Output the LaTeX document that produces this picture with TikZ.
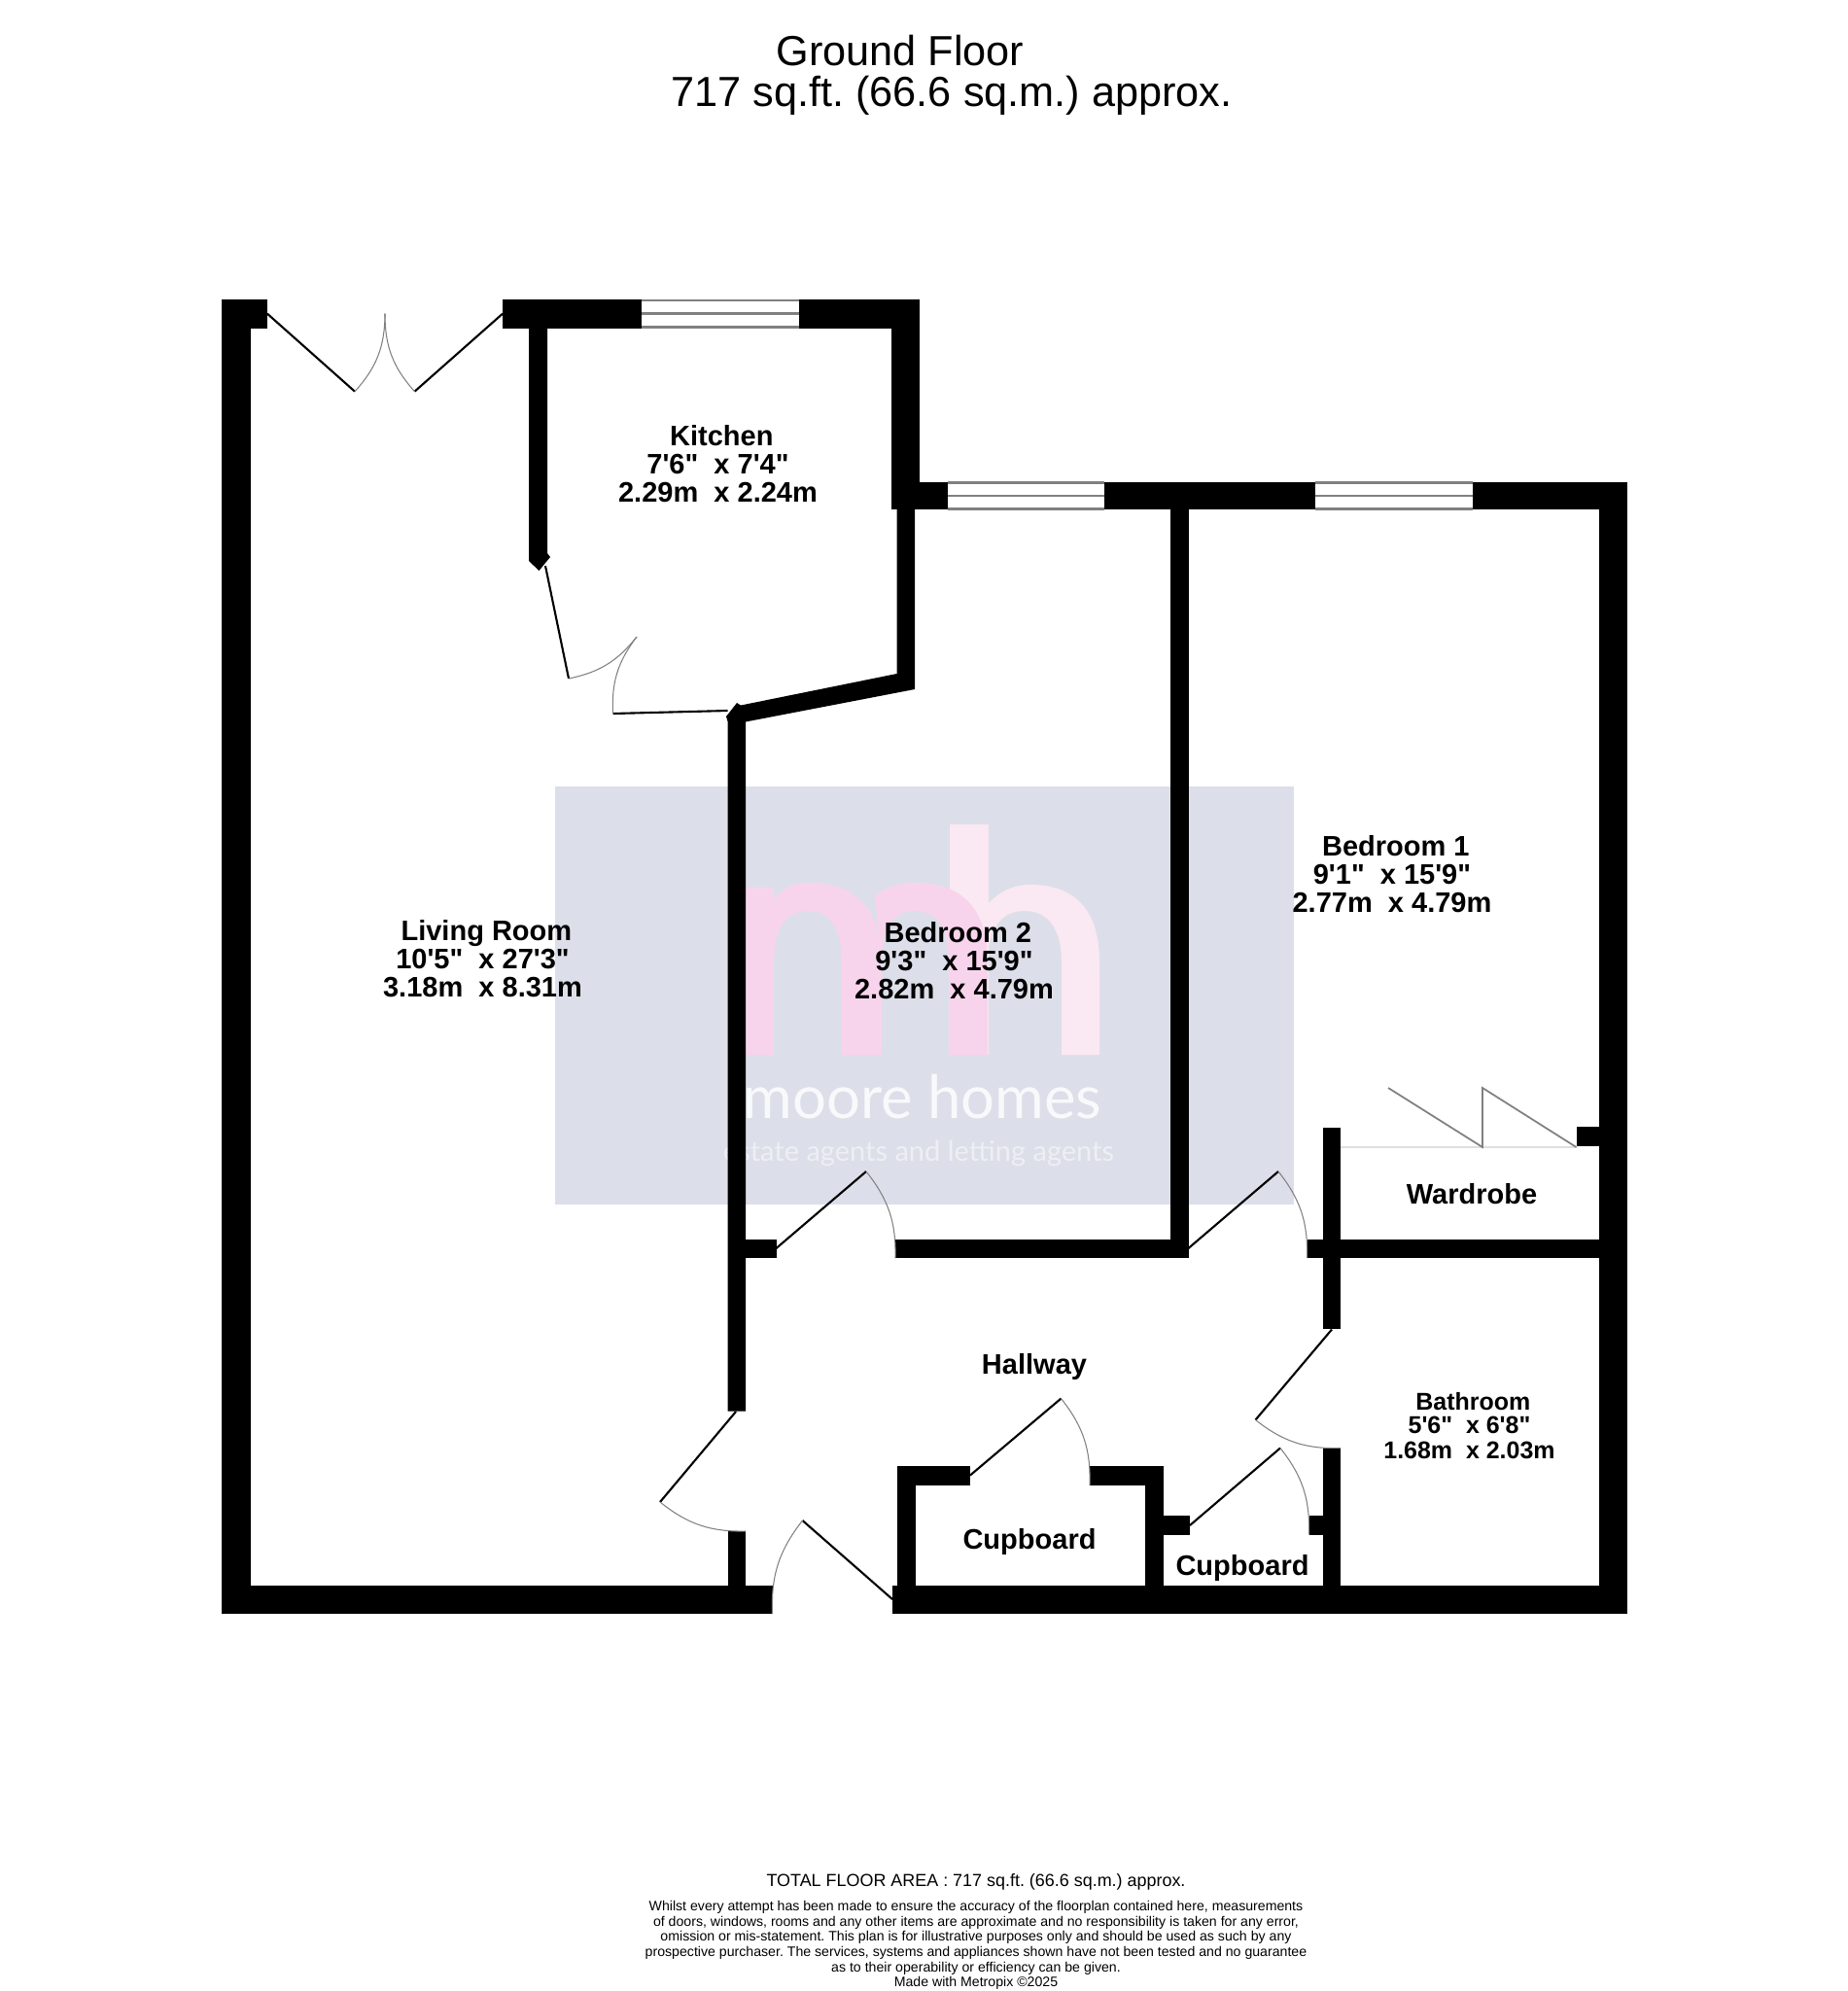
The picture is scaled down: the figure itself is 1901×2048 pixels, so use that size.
\documentclass[tikz,border=0pt]{standalone}
\usepackage{fontspec}
\newfontfamily\planfont{Liberation Sans}
\newfontfamily\markfont{Lato}
\newcommand{\roomfont}{\planfont\bfseries\fontsize{8.25}{8.3}\selectfont}
\newcommand{\smallroomfont}{\planfont\bfseries\fontsize{7.1}{7.4}\selectfont}
\definecolor{markbg}{HTML}{DCDFE9}
\definecolor{markm}{HTML}{F8D4EC}
\definecolor{markh}{HTML}{FAE8F2}
\frenchspacing
\tikzset{
    wall/.style={fill=black},
    leaf/.style={draw=black, line width=0.6pt},
    swing/.style={draw=gray, line width=0.3pt},
    glass/.style={draw=gray, line width=0.7pt},
    fold/.style={draw=gray, line width=0.5pt},
    room/.style={font=\roomfont, align=center, inner sep=0pt},
    smallroom/.style={font=\smallroomfont, align=center, inner sep=0pt}
}

\begin{document}
\begin{tikzpicture}[x=0.01cm, y=-0.01cm]
    \useasboundingbox (0,0) rectangle (1901,2048);

    % watermark
    \fill[markbg] (571,809) rectangle (1331,1239);
    \fill[markh] (977,848) rectangle (1016.5,1085);
    \fill[markh] (1131,1085) -- (1131,990) .. controls (1131,935) and (1105,910) .. (1060,910)
        .. controls (1045,910) and (1030,915) .. (1016,930) -- (1016,990)
        .. controls (1016,955) and (1030,937) .. (1054,937)
        .. controls (1078,937) and (1092,955) .. (1092,990) -- (1092,1085) -- cycle;
    \fill[markm] (755,1085) rectangle (796,913);
    \fill[markm] (907,1085) -- (907,990) .. controls (907,935) and (880,908) .. (831,908)
        .. controls (815,908) and (804,915) .. (796,925) -- (796,990)
        .. controls (796,955) and (808,937) .. (831,937)
        .. controls (854,937) and (866,955) .. (866,990) -- (866,1085) -- cycle;
    \fill[markm] (1016,1085) -- (1016,990) .. controls (1016,935) and (990,908) .. (941,908)
        .. controls (925,908) and (912,912) .. (900,922) -- (907,990)
        .. controls (907,955) and (918,937) .. (941,937)
        .. controls (964,937) and (976,955) .. (976,990) -- (976,1085) -- cycle;
    \node (mark_name) [font=\markfont\fontsize{17.5}{18}\selectfont, text=white!80!markbg, inner sep=0pt] at (949,1128) {moore homes};
    \node (mark_line) [font=\markfont\fontsize{8.25}{9}\selectfont, text=white!50!markbg, inner sep=0pt] at (945,1186) {estate agents and letting agents};

    % outer walls
    \fill[wall] (228,308) rectangle (258,1660);
    \fill[wall] (228,308) rectangle (275,337.5);
    \fill[wall] (517,308) rectangle (660,337.5);
    \fill[wall] (821.5,308) rectangle (946,337.5);
    \fill[wall] (917,308) rectangle (946,524);
    \fill[wall] (917,496) rectangle (975,524);
    \fill[wall] (1136,496) rectangle (1353,524);
    \fill[wall] (1515,496) rectangle (1674,524);
    \fill[wall] (1645,496) rectangle (1674,1660);
    \fill[wall] (228,1630.5) rectangle (794.5,1660);
    \fill[wall] (918,1630.5) rectangle (1674,1660);

    % kitchen walls
    \fill[wall] (544,337) -- (563,337) -- (563,569) -- (566,573) -- (554.5,587) -- (544,577) -- cycle;
    \fill[wall] (922.5,524) -- (941,524) -- (941,709) -- (767,742.5) -- (767,1451.5) -- (748.5,1451.5)
        -- (748.5,742) -- (747,737) -- (758,723) -- (762,725.5) -- (922.5,693) -- cycle;

    % inner walls
    \fill[wall] (1204,496) rectangle (1222.5,1294);
    \fill[wall] (921,1274.5) rectangle (1222.5,1294);
    \fill[wall] (748.5,1274.5) rectangle (798.5,1294);
    \fill[wall] (1344.5,1274.5) rectangle (1645,1294);
    \fill[wall] (1360.5,1159.5) rectangle (1379,1367);
    \fill[wall] (1621.5,1159) rectangle (1645,1179);
    \fill[wall] (1360.5,1489.5) rectangle (1379,1640);
    \fill[wall] (748.5,1575) rectangle (767,1640);

    % cupboards
    \fill[wall] (922.5,1508) rectangle (941.5,1640);
    \fill[wall] (922.5,1508) rectangle (998,1527.5);
    \fill[wall] (1121,1508) rectangle (1196.5,1527.5);
    \fill[wall] (1177.5,1508) rectangle (1196.5,1640);
    \fill[wall] (1196.5,1559) rectangle (1224,1578.5);
    \fill[wall] (1346.5,1559) rectangle (1360.5,1578.5);

    % windows
    \draw[glass] (660,309) -- (821.5,309);
    \draw[glass] (660,322.7) -- (821.5,322.7);
    \draw[glass] (660,336.5) -- (821.5,336.5);
    \draw[glass] (975,496.5) -- (1136,496.5);
    \draw[glass] (975,510) -- (1136,510);
    \draw[glass] (975,523.5) -- (1136,523.5);
    \draw[glass] (1353,496.5) -- (1515,496.5);
    \draw[glass] (1353,510) -- (1515,510);
    \draw[glass] (1353,523.5) -- (1515,523.5);

    % french doors
    \coordinate (french_l) at (275,322.7);
    \coordinate (french_r) at (517,322.7);
    \coordinate (french_top) at (396,322.7);
    \draw[leaf] (french_l) -- (365,402.7);
    \draw[leaf] (french_r) -- (426.5,402.7);
    \draw[swing] (365,402.7) to[bend right=21] (french_top);
    \draw[swing] (426.5,402.7) to[bend left=21] (french_top);

    % kitchen doors
    \draw[leaf] (561,582) -- (585,698);
    \draw[swing] (585,698) to[bend right=20] (655,655);
    \draw[leaf] (748.5,731) -- (630.5,734);
    \draw[swing] (630.5,734) to[bend left=20] (655,655);

    % hallway doors
    \draw[leaf] (798.5,1284) -- (891,1205);
    \draw[swing] (891,1205) to[bend left=20] (921,1294);
    \draw[leaf] (1222.5,1284) -- (1315,1205);
    \draw[swing] (1315,1205) to[bend left=20] (1344.5,1294);
    \draw[leaf] (998,1517.5) -- (1091.5,1438.5);
    \draw[swing] (1091.5,1438.5) to[bend left=20] (1121,1527.5);
    \draw[leaf] (1224,1569) -- (1317,1489.5);
    \draw[swing] (1317,1489.5) to[bend left=20] (1346.5,1578.5);
    \draw[leaf] (1370,1367.5) -- (1291.5,1460.5);
    \draw[swing] (1291.5,1460.5) to[bend right=20] (1379,1489.5);
    \draw[leaf] (757,1452) -- (679,1545);
    \draw[swing] (679,1545) to[bend right=20] (767,1575);
    \draw[leaf] (918,1645) -- (825.5,1564);
    \draw[swing] (825.5,1564) to[bend right=20] (794.5,1660);

    % wardrobe
    \draw[fold, draw=gray!25] (1379,1180) -- (1621.5,1180);
    \draw[fold] (1428,1119) -- (1525,1180) -- (1525,1119) -- (1621.5,1180);

    % labels
    \node (ground_floor) [font=\planfont\fontsize{12.3}{12.4}\selectfont, inner sep=0pt] at (926,52) {Ground Floor};
    \node (floor_area) [font=\planfont\fontsize{12.3}{12.4}\selectfont, inner sep=0pt] at (979,98) {717 sq.ft. (66.6 sq.m.) approx.};
    \node (kitchen) [room] at (738.5,477) {\hspace*{2.2pt}Kitchen\\7'6"~ x 7'4"\\2.29m~ x 2.24m};
    \node (living_room) [room] at (496.5,986) {\hspace*{2.2pt}Living Room\\10'5"~ x 27'3"\\3.18m~ x 8.31m};
    \node (bedroom_two) [room] at (981.5,988) {\hspace*{2.2pt}Bedroom 2\\9'3"~ x 15'9"\\2.82m~ x 4.79m};
    \node (bedroom_one) [room] at (1432,899) {\hspace*{2.2pt}Bedroom 1\\9'1"~ x 15'9"\\2.77m~ x 4.79m};
    \node (wardrobe) [room] at (1514,1228) {Wardrobe};
    \node (hallway) [room] at (1064,1406) {Hallway};
    \node (bathroom) [smallroom] at (1511.5,1467) {\hspace*{2.2pt}Bathroom\\[-0.6pt]5'6"~ x 6'8"\\1.68m~ x 2.03m};
    \node (cupboard_one) [room] at (1059,1586) {Cupboard};
    \node (cupboard_two) [room] at (1278,1613) {Cupboard};

    % footer
    \node (total_area) [font=\planfont\fontsize{5.1}{5.2}\selectfont, inner sep=0pt] at (1004,1936) {TOTAL FLOOR AREA : 717 sq.ft. (66.6 sq.m.) approx.};
    \node (disclaimer) [font=\planfont\fontsize{4.02}{4.44}\selectfont, align=center, inner sep=0pt] at (1004,2001) {Whilst every attempt has been made to ensure the accuracy of the floorplan contained here, measurements\\of doors, windows, rooms and any other items are approximate and no responsibility is taken for any error,\\omission or mis-statement. This plan is for illustrative purposes only and should be used as such by any\\prospective purchaser. The services, systems and appliances shown have not been tested and no guarantee\\as to their operability or efficiency can be given.\\Made with Metropix ©2025};
\end{tikzpicture}
\end{document}
